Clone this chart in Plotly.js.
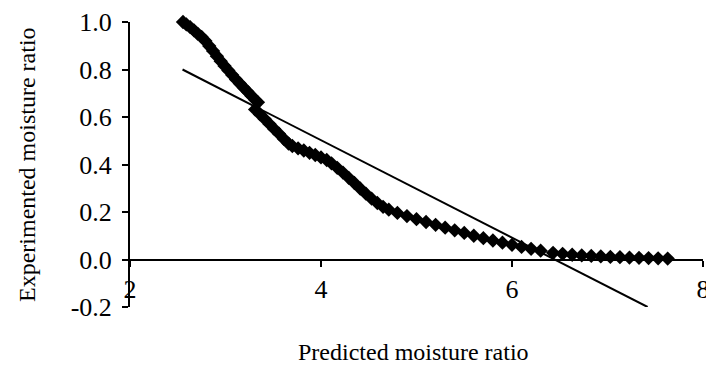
<!DOCTYPE html>
<html>
<head>
<meta charset="utf-8">
<script src="https://cdn.plot.ly/plotly-3.0.1.min.js"></script>
<style>html,body{margin:0;padding:0;background:#fff;}#chart{width:706px;height:368px;}</style>
</head>
<body>
<div id="chart"></div>
<script>
// Experimental points (diamonds)
var predX = [2.555, 2.59, 2.63, 2.67, 2.71, 2.75, 2.79, 2.83, 2.87, 2.91, 2.95, 2.99, 3.03, 3.07, 3.11, 3.15, 3.19, 3.23, 3.27, 3.31, 3.34,
  3.31, 3.36, 3.41, 3.46, 3.51, 3.56, 3.61, 3.66, 3.70,
  3.76, 3.82, 3.88, 3.94, 4.00, 4.06, 4.11,
  4.17, 4.23, 4.29, 4.35, 4.41, 4.47, 4.53, 4.59, 4.65, 4.71,
  4.80, 4.90, 5.00, 5.10, 5.20, 5.30, 5.40, 5.50, 5.60, 5.70, 5.80, 5.90, 6.00, 6.10, 6.20, 6.30,
  6.43, 6.53, 6.63, 6.73, 6.83, 6.93, 7.03, 7.13, 7.23, 7.33, 7.43, 7.53, 7.63];
var expY = [1.000, 0.990, 0.978, 0.965, 0.950, 0.937, 0.920, 0.899, 0.878, 0.856, 0.835, 0.815, 0.796, 0.777, 0.758, 0.741, 0.724, 0.707, 0.690, 0.673, 0.662,
  0.632, 0.612, 0.592, 0.571, 0.550, 0.530, 0.508, 0.488, 0.478,
  0.468, 0.459, 0.449, 0.440, 0.430, 0.419, 0.405,
  0.386, 0.366, 0.344, 0.322, 0.299, 0.277, 0.256, 0.238, 0.222, 0.210,
  0.196, 0.183, 0.170, 0.158, 0.146, 0.134, 0.123, 0.112, 0.100, 0.090, 0.080, 0.071, 0.062, 0.053, 0.045, 0.037,
  0.028, 0.024, 0.020, 0.017, 0.015, 0.013, 0.011, 0.010, 0.008, 0.007, 0.006, 0.005, 0.004];
// Fitted straight line
var lineX = [2.55, 7.42];
var lineY = [0.80, -0.20];
// Tick labels
var xTickVals = [2, 4, 6, 8];
var xTickText = ['2', '4', '6', '8'];
var yTickVals = [-0.2, 0.0, 0.2, 0.4, 0.6, 0.8, 1.0];
var yTickText = ['-0.2', '0.0', '0.2', '0.4', '0.6', '0.8', '1.0'];
var xTitle = 'Predicted moisture ratio';
var yTitle = 'Experimented moisture ratio';

var FONT = 'Liberation Serif';
var traces = [
  {x: predX, y: expY, type: 'scatter', mode: 'markers', cliponaxis: false,
   marker: {symbol: 'diamond', size: 11, color: '#000'}},
  {x: lineX, y: lineY, type: 'scatter', mode: 'lines',
   line: {color: '#000', width: 2}}
];
var layout = {
  width: 706, height: 368,
  margin: {l: 130, r: 3, t: 22, b: 61},
  paper_bgcolor: '#fff', plot_bgcolor: '#fff',
  font: {family: FONT, size: 24, color: '#000'},
  showlegend: false,
  xaxis: {range: [2, 8], tickmode: 'array', tickvals: xTickVals, ticktext: xTickText,
    showgrid: false, zeroline: false, showline: true, linecolor: '#000', linewidth: 2,
    ticks: 'outside', ticklen: 6, tickwidth: 2, tickcolor: '#000',
    tickfont: {family: FONT, size: 26, color: '#000'}, ticklabeloverflow: 'allow',
    anchor: 'free', position: 0.2 / 1.2, ticklabelstandoff: 0},
  yaxis: {range: [-0.2, 1.0], tickmode: 'array', tickvals: yTickVals, ticktext: yTickText,
    showgrid: false, zeroline: false, showline: true, linecolor: '#000', linewidth: 2,
    ticks: 'outside', ticklen: 6, tickwidth: 2, tickcolor: '#000',
    tickfont: {family: FONT, size: 26, color: '#000'}, ticklabeloverflow: 'allow',
    ticklabelstandoff: 5},
  annotations: [
    {text: xTitle, xref: 'paper', yref: 'paper', x: (413 - 130) / 573, y: (307 - 352) / 285,
     xanchor: 'center', yanchor: 'middle', showarrow: false, font: {family: FONT, size: 24, color: '#000'}},
    {text: yTitle, xref: 'paper', yref: 'paper', x: (27 - 130) / 573, y: (307 - 165) / 285,
     xanchor: 'center', yanchor: 'middle', textangle: -90, showarrow: false, font: {family: FONT, size: 24, color: '#000'}}
  ]
};
Plotly.newPlot('chart', traces, layout, {staticPlot: true, displayModeBar: false});
</script>
</body>
</html>
